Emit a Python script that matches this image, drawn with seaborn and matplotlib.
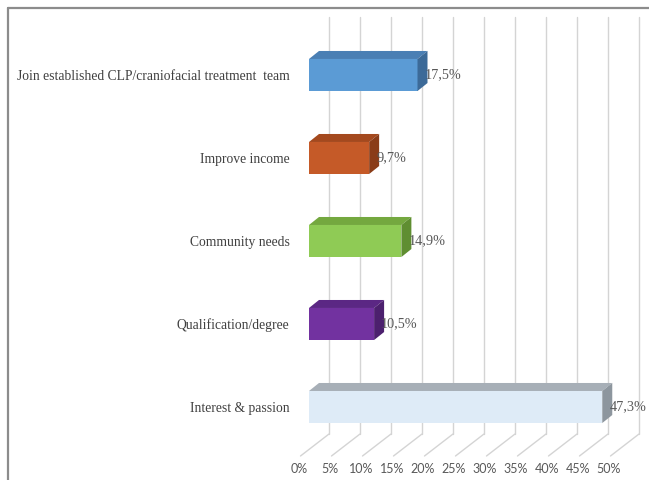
import matplotlib
matplotlib.use("Agg")
import matplotlib.pyplot as plt
from matplotlib.lines import Line2D
from matplotlib.patches import Polygon
import seaborn as sns
import pandas as pd

# Reasons for choosing the specialty (share of respondents, %)
categories = [
    "Join established CLP/craniofacial treatment  team",
    "Improve income",
    "Community needs",
    "Qualification/degree",
    "Interest & passion",
]
values = [17.5, 9.7, 14.9, 10.5, 47.3]
value_labels = ["17,5%", "9,7%", "14,9%", "10,5%", "47,3%"]
tick_values = [0, 5, 10, 15, 20, 25, 30, 35, 40, 45, 50]
tick_labels = ["0%", "5%", "10%", "15%", "20%", "25%", "30%", "35%", "40%", "45%", "50%"]

front_colors = ["#5B9BD5", "#C55A28", "#8FCB55", "#7232A0", "#DEEBF7"]
top_colors = ["#4A7FB4", "#A4491E", "#74A83F", "#5B2784", "#A7AFB7"]
side_colors = ["#3C6A98", "#8A3C18", "#5F8E31", "#4C206E", "#8D969E"]

sns.set_style("white")
plt.rcParams["font.family"] = ["Liberation Serif", "DejaVu Serif"]

W, H = 649, 480
fig = plt.figure(figsize=(W / 100, H / 100), dpi=100)

# axes frame in pixels: x 0..50 % spans 309..619, rows every 83 px from 75
left_px, right_px, top_px, bot_px = 309, 619, 17, 456
row0_px, row_step = 75, 83
ax = fig.add_axes([left_px / W, (H - bot_px) / H,
                   (right_px - left_px) / W, (bot_px - top_px) / H])

df = pd.DataFrame({"reason": categories, "share": values})
sns.barplot(data=df, x="share", y="reason", hue="reason", palette=front_colors,
            width=0.386, orient="h", saturation=1, legend=False, ax=ax,
            edgecolor="none", zorder=3)

xmin, xmax = 0, 50
ymin = (top_px - row0_px) / row_step
ymax = (bot_px - row0_px) / row_step
ax.set_xlim(xmin, xmax)
ax.set_ylim(ymax, ymin)

px_x = (xmax - xmin) / (right_px - left_px)   # data units per pixel, x
px_y = (ymax - ymin) / (bot_px - top_px)      # data units per pixel, y

def ydat(p):
    return (p - row0_px) / row_step

# back wall gridlines and floor lines
grid_c = "#D4D4D4"
back_dx = 20 * px_x
floor_front_dx = -8.5 * px_x
for v in tick_values:
    ax.plot([v + back_dx, v + back_dx], [ydat(17), ydat(434)], color=grid_c,
            lw=1.0, zorder=1, clip_on=False)
    ax.plot([v + back_dx, v + floor_front_dx], [ydat(434), ydat(456)],
            color=grid_c, lw=1.0, zorder=1, clip_on=False)

# 3D top and side faces of each bar
half = 0.386 / 2
ddx, ddy = 10 * px_x, -8 * px_y
for i, v in enumerate(values):
    y0, y1 = i - half, i + half
    top = Polygon([(0, y0), (v, y0), (v + ddx, y0 + ddy), (0 + ddx, y0 + ddy)],
                  closed=True, facecolor=top_colors[i], edgecolor="none", zorder=3)
    side = Polygon([(v, y0), (v + ddx, y0 + ddy), (v + ddx, y1 + ddy), (v, y1)],
                   closed=True, facecolor=side_colors[i], edgecolor="none", zorder=3)
    ax.add_patch(top)
    ax.add_patch(side)
    ax.text(v + 7 * px_x, i, value_labels[i], ha="left", va="center",
            fontsize=10.3, color="#595959", zorder=5)

# x tick labels below the floor
for v, lab in zip(tick_values, tick_labels):
    ax.text(v - 10 * px_x, ydat(469), lab, ha="center", va="center",
            fontsize=9, color="#595959", family=["Lato", "DejaVu Sans"],
            clip_on=False)

ax.set_xticks([])
ax.set_xlabel("")
ax.set_ylabel("")
ax.tick_params(axis="y", length=0, pad=14, labelsize=9.8, labelcolor="#404040")
for lbl in ax.get_yticklabels():
    lbl.set_family(["Liberation Serif", "DejaVu Serif"])
for s in ax.spines.values():
    s.set_visible(False)
ax.patch.set_alpha(0)

# outer frame (top and left edges)
fig.add_artist(Line2D([8 / W, 1], [1 - 8 / H, 1 - 8 / H], transform=fig.transFigure,
                      color="#8C8C8C", lw=1.6))
fig.add_artist(Line2D([8 / W, 8 / W], [0, 1 - 8 / H], transform=fig.transFigure,
                      color="#8C8C8C", lw=1.6))

fig.savefig("out.png", dpi=100)
